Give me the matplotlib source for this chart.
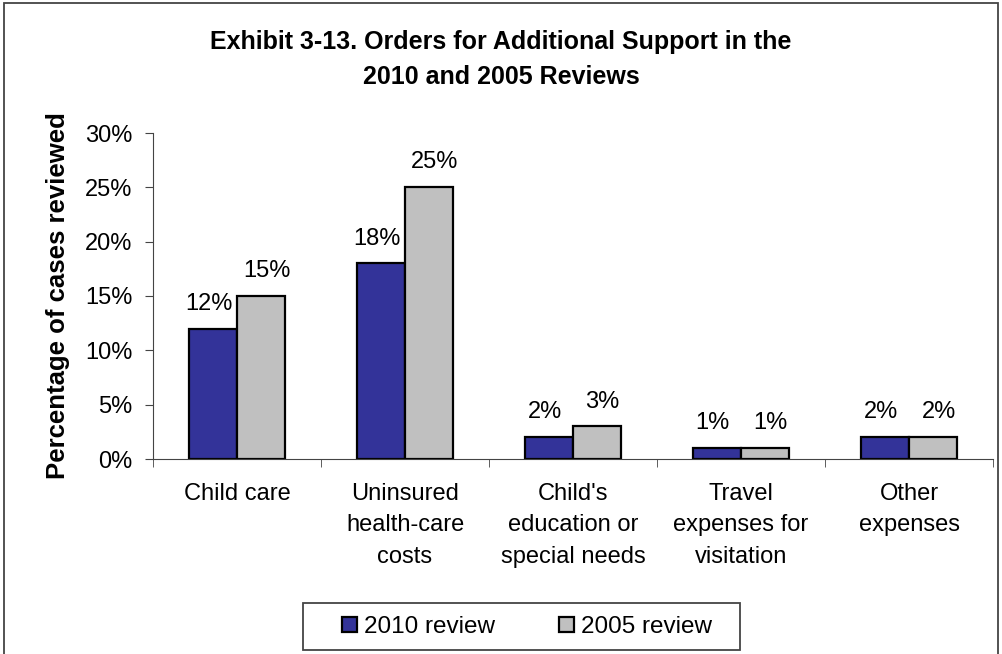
import numpy as np
import matplotlib.pyplot as plt
from matplotlib.patches import Rectangle
from matplotlib.ticker import PercentFormatter

plt.rcParams['font.family'] = ['Liberation Sans', 'DejaVu Sans']

# chart data
categories = ['Child care', 'Uninsured\nhealth-care\ncosts', "Child's\neducation or\nspecial needs",
              'Travel\nexpenses for\nvisitation', 'Other\nexpenses']
review_2010 = [12, 18, 2, 1, 2]
review_2005 = [15, 25, 3, 1, 2]
series_names = ['2010 review', '2005 review']

W, H = 1002, 654
fig = plt.figure(figsize=(W / 100, H / 100), dpi=100)
ax = fig.add_axes([153 / W, 1 - 459 / H, 840 / W, 326 / H])

# outer frame of the exhibit
fig.patches.append(Rectangle((4 / W, -0.02), 994 / W, 1 - 3 / H + 0.02,
                             transform=fig.transFigure, fill=False, edgecolor='#444444', lw=1.3))

x = np.arange(len(categories))
w = 0.286
b1 = ax.bar(x - w / 2, review_2010, w, color='#333399', edgecolor='black', lw=1.6, label=series_names[0])
b2 = ax.bar(x + w / 2, review_2005, w, color='#C0C0C0', edgecolor='black', lw=1.6, label=series_names[1])

for bars, vals, dx in ((b1, review_2010, -3), (b2, review_2005, 4)):
    for r, v in zip(bars, vals):
        ax.annotate('%d%%' % v, (r.get_x() + r.get_width() / 2, v), xytext=(dx, 10),
                    textcoords='offset points', ha='center', va='bottom', fontsize=17)

ax.set_xlim(-0.5, len(categories) - 0.5)
ax.set_ylim(0, 30)
ax.set_yticks(range(0, 31, 5))
ax.yaxis.set_major_formatter(PercentFormatter(decimals=0))
ax.set_xticks(x)
ax.set_xticklabels(categories, fontsize=17, linespacing=1.56)
ax.set_xticks(np.arange(-0.5, len(categories), 1), minor=True)
ax.tick_params(axis='x', which='major', length=0, pad=17)
ax.tick_params(axis='x', which='minor', length=6, color='#444444', direction='out')
ax.tick_params(axis='y', labelsize=17, length=6, color='#444444', direction='out', pad=9)
for s in ('top', 'right'):
    ax.spines[s].set_visible(False)
for s in ('left', 'bottom'):
    ax.spines[s].set_color('#444444')
ax.set_ylabel('Percentage of cases reviewed', fontsize=18.5, fontweight='bold', labelpad=11)

fig.text(0.5, 1 - 59.5 / H, 'Exhibit 3-13. Orders for Additional Support in the\n2010 and 2005 Reviews',
         ha='center', va='center', fontsize=18, fontweight='bold', linespacing=1.53)

# legend box drawn separately so its padding matches the reference
fig.patches.append(Rectangle((303 / W, 1 - 650 / H), 437 / W, 47 / H,
                             transform=fig.transFigure, fill=False, edgecolor='#444444', lw=1.3))
leg = fig.legend(loc='center', bbox_to_anchor=(527 / W, 1 - 627 / H), ncol=2, fontsize=17.5,
                 frameon=False, handlelength=0.62, handleheight=0.62,
                 columnspacing=2.6, handletextpad=0.3, borderpad=0.0)

fig.savefig('out.png', dpi=100)
